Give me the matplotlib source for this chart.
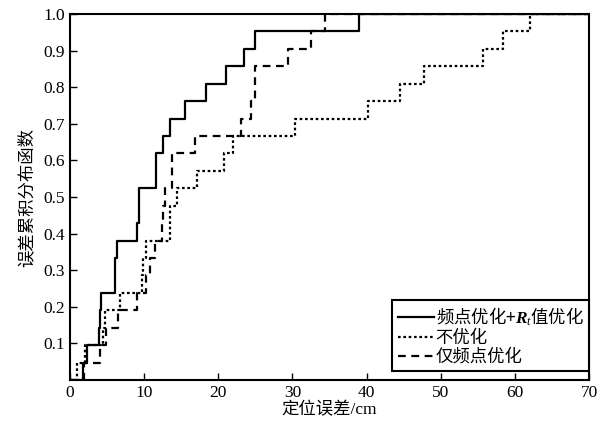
import numpy as np
import matplotlib
matplotlib.use('Agg')
import matplotlib.pyplot as plt

plt.rcParams['font.family'] = ['Liberation Serif', 'Noto Sans CJK SC']
plt.rcParams['mathtext.fontset'] = 'custom'
plt.rcParams['mathtext.rm'] = 'Liberation Serif'
plt.rcParams['mathtext.it'] = 'Liberation Serif:italic'
plt.rcParams['mathtext.bf'] = 'Liberation Serif:bold'
plt.rcParams['mathtext.bfit'] = 'Liberation Serif:italic:bold'

# positioning errors (cm) of the 21 test points for each method
err_both = [1.7, 2.25, 3.9, 4.0, 4.2, 6.0, 6.0, 6.4, 9.0, 9.35, 9.35,
            11.6, 11.6, 12.6, 13.5, 15.5, 18.3, 21.0, 23.5, 24.9, 39.0]
err_none = [0.9, 2.0, 4.5, 4.7, 6.7, 9.7, 9.9, 10.3, 13.5, 13.5, 14.4,
            17.1, 20.8, 22.0, 30.3, 40.2, 44.5, 47.7, 55.7, 58.4, 62.0]
err_freq = [1.9, 4.0, 4.9, 6.5, 9.1, 10.25, 10.8, 11.5, 12.4, 12.6, 12.8,
            13.7, 13.7, 16.9, 23.1, 24.4, 24.95, 24.95, 29.4, 32.5, 34.4]

labels = [r'频点优化+$\mathbfit{R}_{\mathit{t}}$值优化', '不优化', '仅频点优化']
styles = ['-', (0, (1.2, 1.2)), (0, (3.5, 2.5))]
xticks = [0, 10, 20, 30, 40, 50, 60, 70]
yticks = [0.1, 0.2, 0.3, 0.4, 0.5, 0.6, 0.7, 0.8, 0.9, 1.0]


def ecdf(vals):
    v = np.sort(np.asarray(vals, dtype=float))
    n = len(v)
    x = np.concatenate([[0.0], v, [70.0]])
    y = np.concatenate([[0.0], np.arange(1, n + 1) / n, [1.0]])
    return x, y


fig = plt.figure(figsize=(6.10, 4.26), dpi=100)
ax = fig.add_axes([0.1148, 0.108, 0.8508, 0.859])

for data, ls, lab in zip([err_both, err_none, err_freq], styles, labels):
    x, y = ecdf(data)
    ax.step(x, y, where='post', color='black', lw=1.6, linestyle=ls, label=lab)

ax.set_xlim(0, 70)
ax.set_ylim(0, 1.0)
ax.set_xticks(xticks)
ax.set_yticks(yticks)
ax.set_yticklabels(['%.1f' % t for t in yticks])
ax.tick_params(direction='in', length=5, width=1, labelsize=12.5,
               top=False, right=False)
for s in ax.spines.values():
    s.set_linewidth(1.5)

ax.set_xlabel('定位误差/cm', fontsize=12.5, labelpad=1)
ax.set_ylabel('误差累积分布函数', fontsize=12.5, labelpad=6)

# the mathtext label takes its plain-text glyphs from the first family,
# so the legend uses the CJK font first
leg = ax.legend(loc='lower right', bbox_to_anchor=(1.0, 0.025),
                borderaxespad=0, prop={'family': ['Noto Sans CJK SC'], 'size': 12.5},
                handlelength=2.1, handletextpad=0.1, labelspacing=0.05,
                borderpad=0.3, fancybox=False, edgecolor='black', framealpha=1)
leg.get_frame().set_linewidth(1.5)

fig.savefig('out.png', dpi=100)
